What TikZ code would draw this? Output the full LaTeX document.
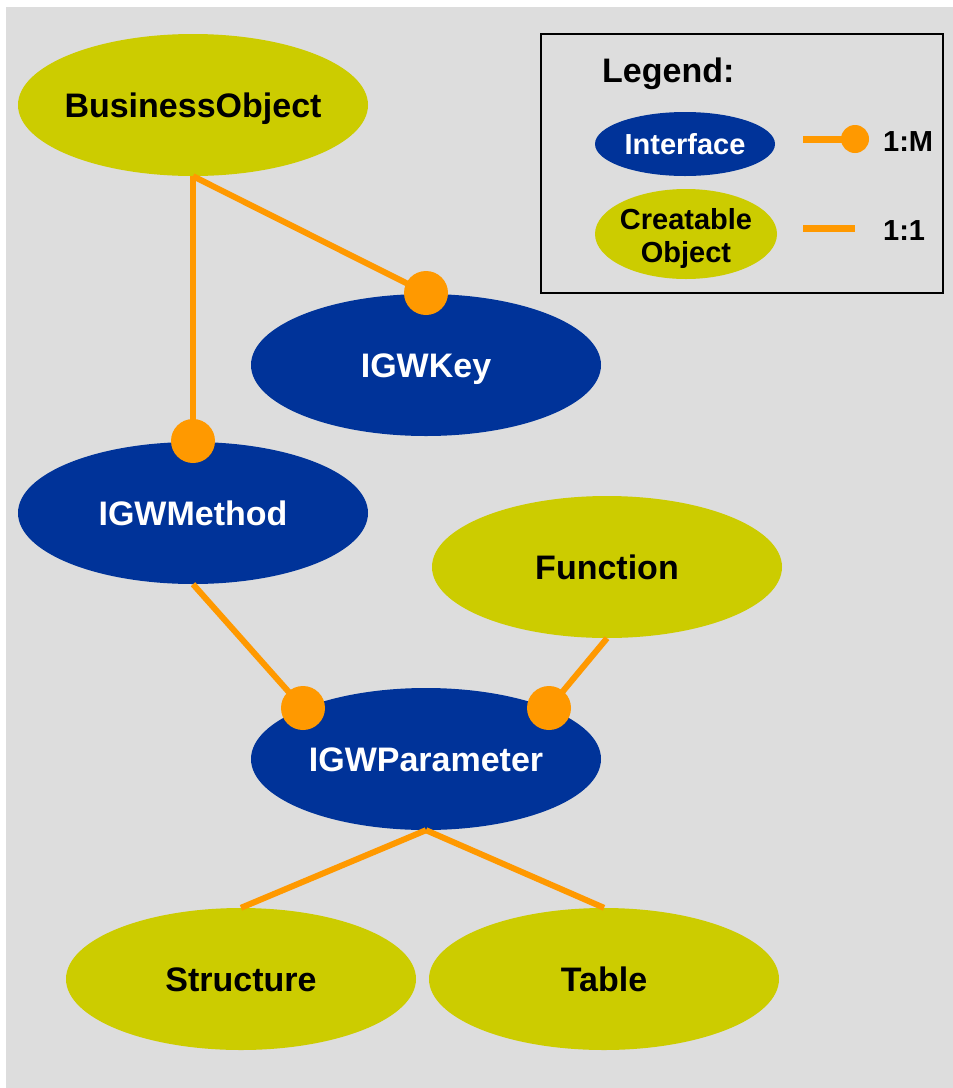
\documentclass[tikz,border=0pt]{standalone}
\usepackage{fontspec}
\setmainfont{Liberation Sans}
\usetikzlibrary{shapes.geometric}
\definecolor{olive}{RGB}{204,204,0}
\definecolor{navy}{RGB}{0,51,153}
\definecolor{amber}{RGB}{255,153,0}
\definecolor{bggray}{RGB}{221,221,221}
% zero-width label so the ellipse keeps its own size
\newcommand{\zc}[1]{\makebox[0pt][c]{#1}}
\begin{document}
\begin{tikzpicture}[x=1pt,y=-1pt,
  blob/.style={ellipse,draw=none,inner sep=0pt,minimum width=350pt,minimum height=142pt,
    font=\fontsize{34}{38}\selectfont\bfseries,text height=24.5pt,text depth=0pt},
  obj/.style={blob,fill=olive,text=black},
  iface/.style={blob,fill=navy,text=white},
  link/.style={draw=amber,line width=6pt},
  knob/.style={fill=amber},
  legtext/.style={font=\fontsize{29}{33}\selectfont\bfseries,text=black}]
\useasboundingbox (0,0) rectangle (953,1088);
\fill[bggray] (6,7) rectangle (953,1088);

% nodes
\node[obj]   (bo)    at (193,105) {\zc{BusinessObject}};
\node[iface] (key)   at (426,365) {\zc{IGWKey}};
\node[iface] (meth)  at (193,513) {\zc{IGWMethod}};
\node[obj]   (func)  at (607,567) {\zc{Function}};
\node[iface] (param) at (426,759) {\zc{IGWParameter}};
\node[obj]   (struc) at (241,979) {\zc{Structure}};
\node[obj]   (tab)   at (604,979) {\zc{Table}};

% connector end points on the interfaces
\coordinate (mtop) at (193,441);
\coordinate (ktop) at (426,293);
\coordinate (pl)   at (303,708);
\coordinate (pr)   at (549,708);

% 1:M links with round ends
\draw[link] (bo.south) -- (mtop);
\draw[link] (bo.south) -- (ktop);
\draw[link] (meth.south) -- (pl);
\draw[link] (func.south) -- (pr);
\fill[knob] (mtop) circle (22);
\fill[knob] (ktop) circle (22);
\fill[knob] (pl) circle (22);
\fill[knob] (pr) circle (22);

% 1:1 links
\draw[link] (param.south) -- (struc.north);
\draw[link] (param.south) -- (tab.north);

% legend
\node[draw=black,line width=1.5pt,minimum width=402pt,minimum height=259pt,inner sep=0pt] (legend) at (742,163.5) {};
\node[anchor=west,inner sep=0pt,font=\fontsize{34}{38}\selectfont\bfseries] (legtitle) at (602,74) {Legend:};
\node[ellipse,fill=navy,inner sep=0pt,minimum width=180pt,minimum height=64pt,legtext,text=white,
  text height=21pt,text depth=0pt] (li) at (685,144) {\zc{Interface}};
\node[ellipse,fill=olive,inner sep=0pt,minimum width=182pt,minimum height=90pt] (lo) at (686,234) {};
\node[legtext,align=center,inner sep=0pt] (lotext) at (686,238) {Creatable\\Object};
\coordinate (m1) at (803,139);
\coordinate (m2) at (855,139);
\coordinate (o1) at (803,228);
\coordinate (o2) at (855,228);
\draw[link,line width=7pt] (m1) -- (m2);
\fill[knob] (m2) circle (14);
\draw[link,line width=7pt] (o1) -- (o2);
\node[anchor=west,inner sep=0pt,legtext] (lm) at (883,142) {1:M};
\node[anchor=west,inner sep=0pt,legtext] (l1) at (883,231) {1:1};
\end{tikzpicture}
\end{document}
